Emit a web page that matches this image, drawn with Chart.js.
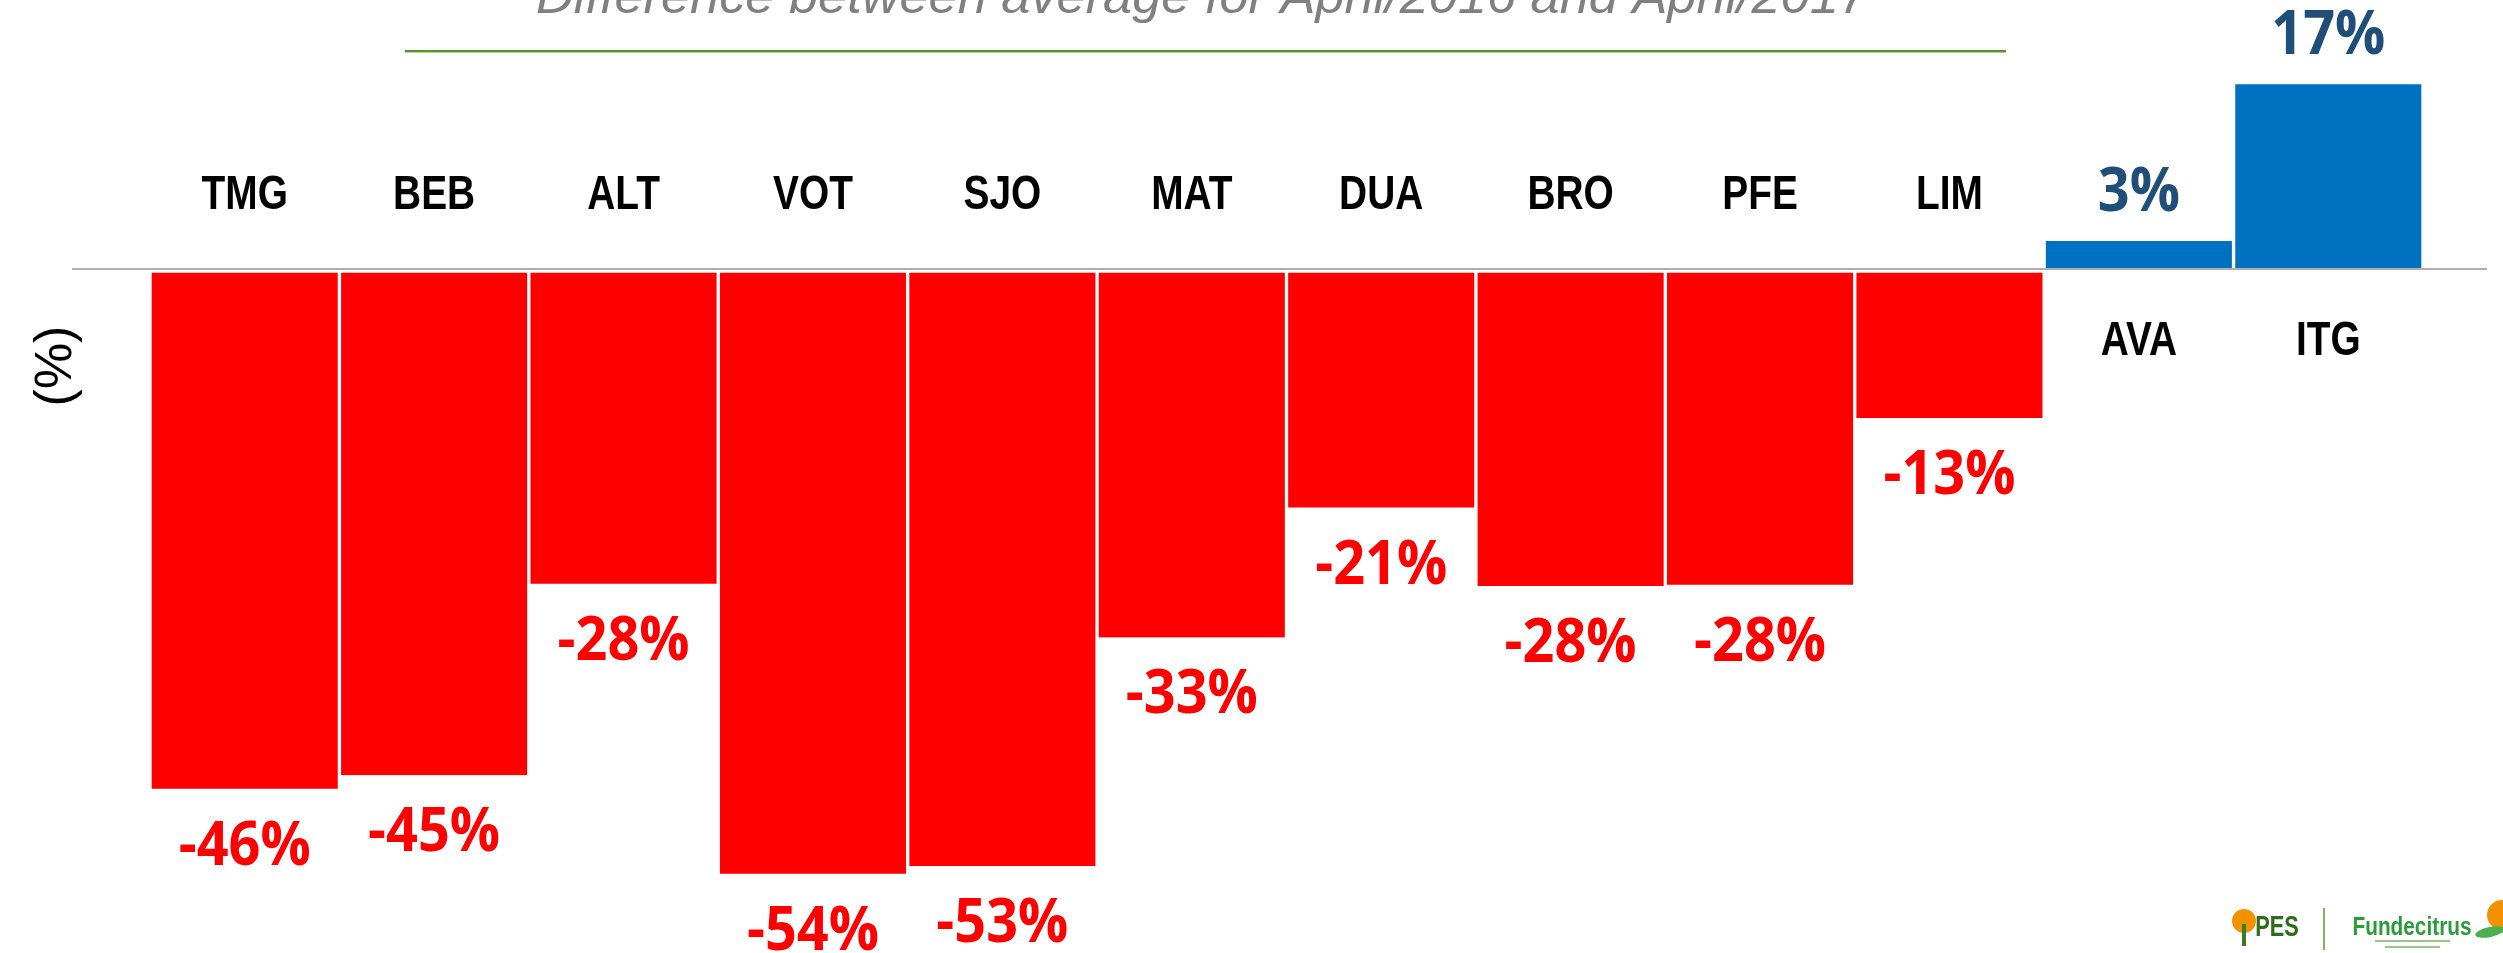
<!DOCTYPE html>
<html>
<head>
<meta charset="utf-8">
<title>Difference between average for April/2016 and April/2017</title>
<script src="https://cdn.jsdelivr.net/npm/chart.js@4"></script>
<style>
  html, body { margin: 0; padding: 0; background: #fff; }
  #wrap { width: 2503px; height: 953px; position: relative; }
</style>
</head>
<body>
<div id="wrap"><canvas id="myChart"></canvas></div>
<script>
// stations and change in % (April/2016 -> April/2017)
const stations = ['TMG', 'BEB', 'ALT', 'VOT', 'SJO', 'MAT', 'DUA', 'BRO', 'PFE', 'LIM', 'AVA', 'ITG'];
const changes = [-46.4, -45.2, -28.1, -54.0, -53.3, -32.9, -21.3, -28.3, -28.2, -13.3, 2.5, 16.5];
const titleText = 'Difference between average for April/2016 and April/2017';
const yTitle = '(%)';

const RED = '#ff0000';
const BLUE = '#0070c0';

function drawText(ctx, txt, x, y, font, color, sx) {
    ctx.save();
    ctx.font = font;
    ctx.fillStyle = color;
    ctx.textAlign = 'center';
    ctx.textBaseline = 'alphabetic';
    ctx.translate(x, y);
    ctx.scale(sx, 1);
    ctx.fillText(txt, 0, 0);
    ctx.restore();
}

// title, green rule, y title and the little logo
const decorPlugin = {
    id: 'decor',
    afterDraw(chart) {
        const ctx = chart.ctx;
        ctx.save();
        // title (cut off at top in the original)
        ctx.font = 'italic 50px "Liberation Sans"';
        const w = ctx.measureText(titleText).width;
        drawText(ctx, titleText, 1202, 13, 'italic 50px "Liberation Sans"', '#808080', 1332 / w);

        // green rule under the title
        ctx.fillStyle = '#5b8f33';
        ctx.fillRect(405, 50, 1601, 2);
        ctx.fillStyle = '#b5d19c';
        ctx.fillRect(405, 52, 1601, 1);

        // y axis title
        ctx.translate(57, 366);
        ctx.rotate(-Math.PI / 2);
        ctx.font = '52px "Liberation Sans"';
        ctx.fillStyle = '#000';
        ctx.textAlign = 'center';
        ctx.textBaseline = 'middle';
        ctx.fillText(yTitle, 0, 0);
        ctx.restore();

        // logo
        ctx.save();
        ctx.fillStyle = '#f39200';
        ctx.beginPath(); ctx.arc(2244, 921, 12, 0, Math.PI * 2); ctx.fill();
        ctx.fillStyle = '#3a7d1e';
        ctx.fillRect(2242, 924, 4, 22);
        drawText(ctx, 'PES', 2277, 936, 'bold 29px "Liberation Sans"', '#2e6b1a', 0.75);
        ctx.fillStyle = '#7bb661';
        ctx.fillRect(2323, 908, 2, 42);
        drawText(ctx, 'Fundecitrus', 2412, 935, 'bold 26px "Liberation Sans"', '#2e9a3c', 0.8);
        ctx.fillStyle = '#f39200';
        ctx.beginPath(); ctx.arc(2502, 915, 15, 0, Math.PI * 2); ctx.fill();
        ctx.fillStyle = '#4caf50';
        ctx.beginPath(); ctx.ellipse(2490, 932, 15, 5, -0.2, 0, Math.PI * 2); ctx.fill();
        ctx.fillStyle = '#9cc48e';
        ctx.fillRect(2375, 940, 75, 2);
        ctx.fillRect(2385, 946, 55, 2);
        ctx.restore();
    }
};

// zero line, station names and value labels
const labelPlugin = {
    id: 'barLabels',
    afterDatasetsDraw(chart) {
        const ctx = chart.ctx;
        const zeroY = chart.scales.y.getPixelForValue(0);
        ctx.save();
        ctx.strokeStyle = '#b0b0b0';
        ctx.lineWidth = 2;
        ctx.beginPath();
        ctx.moveTo(72, zeroY);
        ctx.lineTo(2487, zeroY);
        ctx.stroke();
        ctx.restore();

        const meta = chart.getDatasetMeta(0);
        meta.data.forEach((bar, i) => {
            const v = changes[i];
            const neg = v < 0;
            drawText(ctx, stations[i], bar.x, neg ? zeroY - 60 : zeroY + 86,
                'bold 48px "Liberation Sans"', '#000', 0.81);
            drawText(ctx, Math.round(v) + '%', bar.x, neg ? bar.y + 76 : bar.y - 30,
                'bold 60px "Open Sans"', neg ? RED : '#1f4e79', 0.93);
        });
    }
};

const ctx = document.getElementById('myChart').getContext('2d');
const myChart = new Chart(ctx, {
    type: 'bar',
    data: {
        labels: stations,
        datasets: [{
            label: 'Difference (%)',
            data: changes,
            backgroundColor: changes.map(v => v < 0 ? RED : BLUE),
            borderColor: '#ffffff',
            borderWidth: changes.map(v => v < 0 ? { top: 4, left: 2, right: 2, bottom: 0 } : { top: 0, left: 2, right: 2, bottom: 0 }),
            borderSkipped: false,
            categoryPercentage: 1,
            barPercentage: 1
        }]
    },
    options: {
        responsive: true,
        maintainAspectRatio: false,
        animation: false,
        layout: { padding: { left: 150, right: 80, top: 45, bottom: 12 } },
        plugins: {
            legend: { display: false },
            tooltip: { enabled: false },
            title: { display: false }
        },
        scales: {
            x: { display: false },
            y: { display: false, min: -60, max: 20 }
        }
    },
    plugins: [labelPlugin, decorPlugin]
});
</script>
</body>
</html>
